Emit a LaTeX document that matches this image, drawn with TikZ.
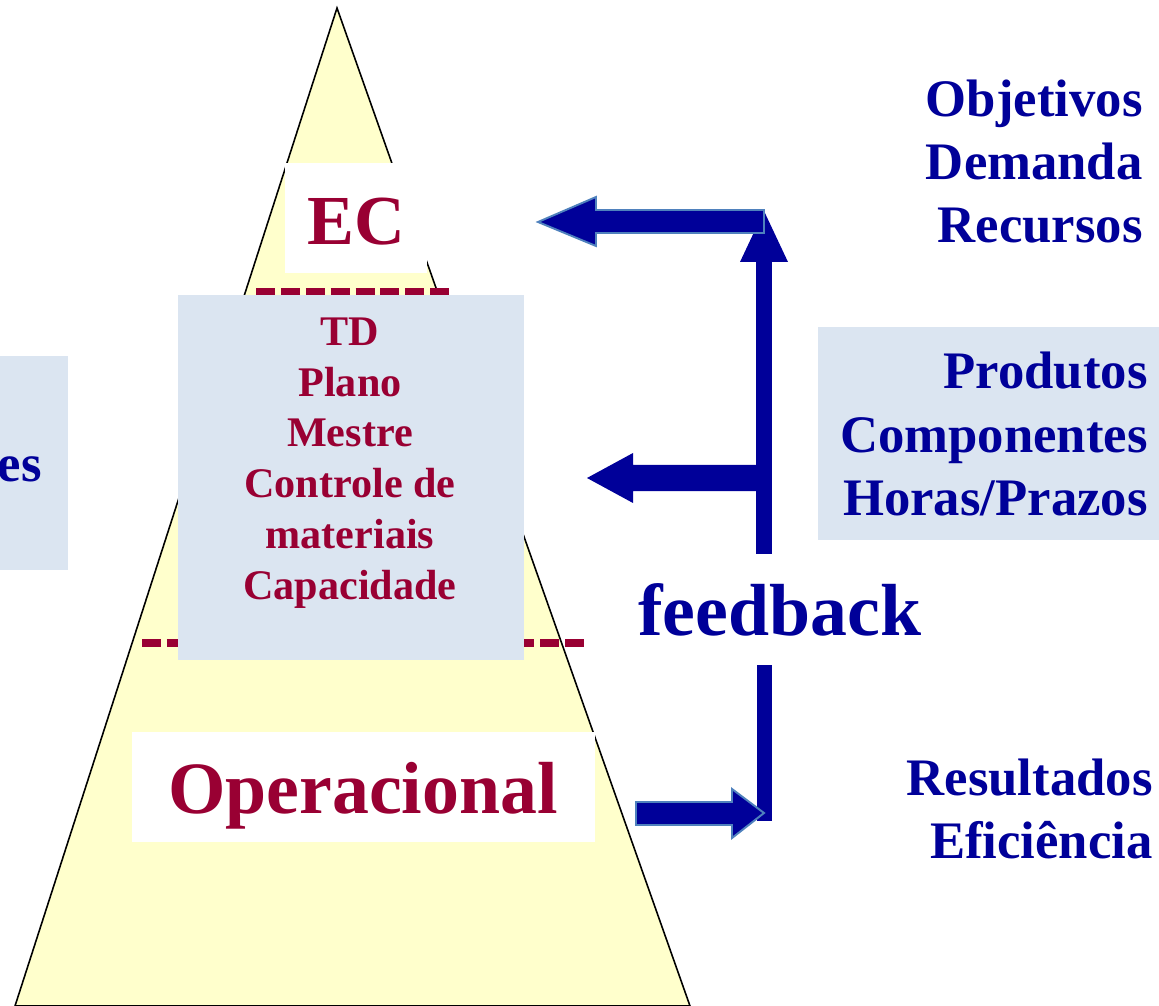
\documentclass[tikz,border=0pt]{standalone}
\usepackage{fontspec}
\setmainfont{Liberation Serif}
\definecolor{wine}{HTML}{990033}
\definecolor{navy}{HTML}{000099}
\definecolor{panelblue}{HTML}{DBE5F1}
\definecolor{pyramid}{HTML}{FFFFCC}
\definecolor{arrowrim}{HTML}{4F81BD}
\tikzset{
  bluetext/.style={inner sep=0pt, text=navy, align=right, font=\bfseries\fontsize{30}{36}\selectfont},
  redtext/.style={inner sep=0pt, text=wine, align=center, font=\bfseries\fontsize{24}{28.9}\selectfont},
  bigtext/.style={inner sep=0pt, font=\bfseries\fontsize{42}{50}\selectfont},
  panel/.style={fill=panelblue},
  levelline/.style={wine, line width=4.5pt, dash pattern=on 10.77pt off 3.4pt},
  blockarrow/.style={fill=navy},
  rimarrow/.style={fill=navy, draw=arrowrim, line width=1.1pt, line join=miter}
}
\begin{document}
\begin{tikzpicture}[x=0.02cm,y=-0.02cm]
  \useasboundingbox (0,0) rectangle (1159,1006);
  \begin{scope}
    \clip (0,0) rectangle (1159,1006);
    % pyramid
    \filldraw[fill=pyramid, draw=black, line width=0.9pt] (337,8) -- (690,1006) -- (15,1006) -- cycle;
  \end{scope}
  \fill[white] (285,163) rectangle (427,273);
  \fill[white] (132,732) rectangle (595,842);
  \draw[levelline] (256,292) -- (450,292);
  \draw[levelline] (142,643) -- (585,643);
  \fill[panel] (178,295) rectangle (524,660);
  \fill[panel] (0,356) rectangle (68,570);
  \fill[panel] (818,327) rectangle (1159,540);
  % texts
  \node[bigtext, text=wine, anchor=base, font=\bfseries\fontsize{40}{48}\selectfont] (ec) at (356,245) {EC};
  \node[bigtext, text=wine, anchor=base] (oper) at (363,813) {Operacional};
  \node[redtext] (tatico) at (350,463) {TD\\Plano\\Mestre\\Controle de\\materiais\\Capacidade};
  \node[bluetext, anchor=base east] (left) at (42,481) {es};
  \node[bluetext, anchor=east] (objetivos) at (1143,161.5) {Objetivos\\Demanda\\Recursos};
  \node[bluetext, anchor=east] (produtos) at (1148,434) {Produtos\\Componentes\\Horas/Prazos};
  \node[bluetext, anchor=east] (resultados) at (1153,808.6) {Resultados\\Eficiência};
  \node[bigtext, text=navy, anchor=base west] (feedback) at (638,635) {feedback};
  % feedback arrows
  \fill[blockarrow] (756,554) rectangle (772,262);
  \fill[blockarrow] (740,262) -- (764,211) -- (788,262) -- cycle;
  \filldraw[rimarrow] (538,222) -- (596,197) -- (596,210) -- (764,210) -- (764,233) -- (596,233) -- (596,246) -- cycle;
  \fill[blockarrow] (587,478) -- (633,453) -- (633,465) -- (757,465) -- (757,491) -- (633,491) -- (633,503) -- cycle;
  \fill[blockarrow] (757,665) rectangle (772,821);
  \filldraw[rimarrow] (636,802) -- (732,802) -- (732,789) -- (764,813) -- (732,838) -- (732,825) -- (636,825) -- cycle;
\end{tikzpicture}
\end{document}
